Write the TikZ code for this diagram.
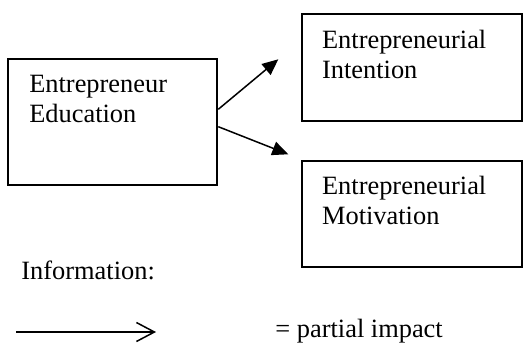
\documentclass[tikz,border=0pt]{standalone}
\usepackage{fontspec}
\setmainfont{Liberation Serif}
\usetikzlibrary{arrows.meta}

\begin{document}
\begin{tikzpicture}[x=0.5pt, y=-0.5pt, >={Triangle[length=8pt,width=7pt]},
    var/.style={draw, line width=1pt, minimum width=110pt, minimum height=53.2pt, inner sep=0pt},
    var text/.style={font=\fontsize{13.2}{15}\selectfont, align=left, inner sep=0pt, anchor=base west},
    effect/.style={->, line width=0.75pt},
    legend/.style={font=\fontsize{13.2}{15}\selectfont, inner sep=0pt, anchor=base west}
]
  \useasboundingbox (0,0) rectangle (524,343);

  \node[var, minimum width=104.5pt, minimum height=63pt] (edu) at (112.8,122) {};
  \node[var] (int) at (411.7,67.5) {};
  \node[var] (mot) at (411.7,214.2) {};

  \node[var text] (edu text) at ([xshift=10.8pt, yshift=-32.2pt]edu.north west) {Entrepreneur\\Education};
  \node[var text] (int text) at ([xshift=10.5pt, yshift=-32.4pt]int.north west) {Entrepreneurial\\Intention};
  \node[var text] (mot text) at ([xshift=10.5pt, yshift=-32pt]mot.north west) {Entrepreneurial\\Motivation};

  \coordinate (tip int) at (278.3,59.3);
  \coordinate (tip mot) at (288.3,154.3);
  \draw[effect] ([yshift=6.35pt]edu.east) -- (tip int);
  \draw[effect] ([yshift=-2.35pt]edu.east) -- (tip mot);

  \node[legend] (info) at (21,279) {Information:};
  \coordinate (key a) at (16,332);
  \coordinate (key b) at (156,332);
  \draw[line width=0.75pt, -{Straight Barb[length=9pt,width=9.5pt]}] (key a) -- (key b);
  \node[legend] (impact) at (275,337) {= partial impact};
\end{tikzpicture}
\end{document}
